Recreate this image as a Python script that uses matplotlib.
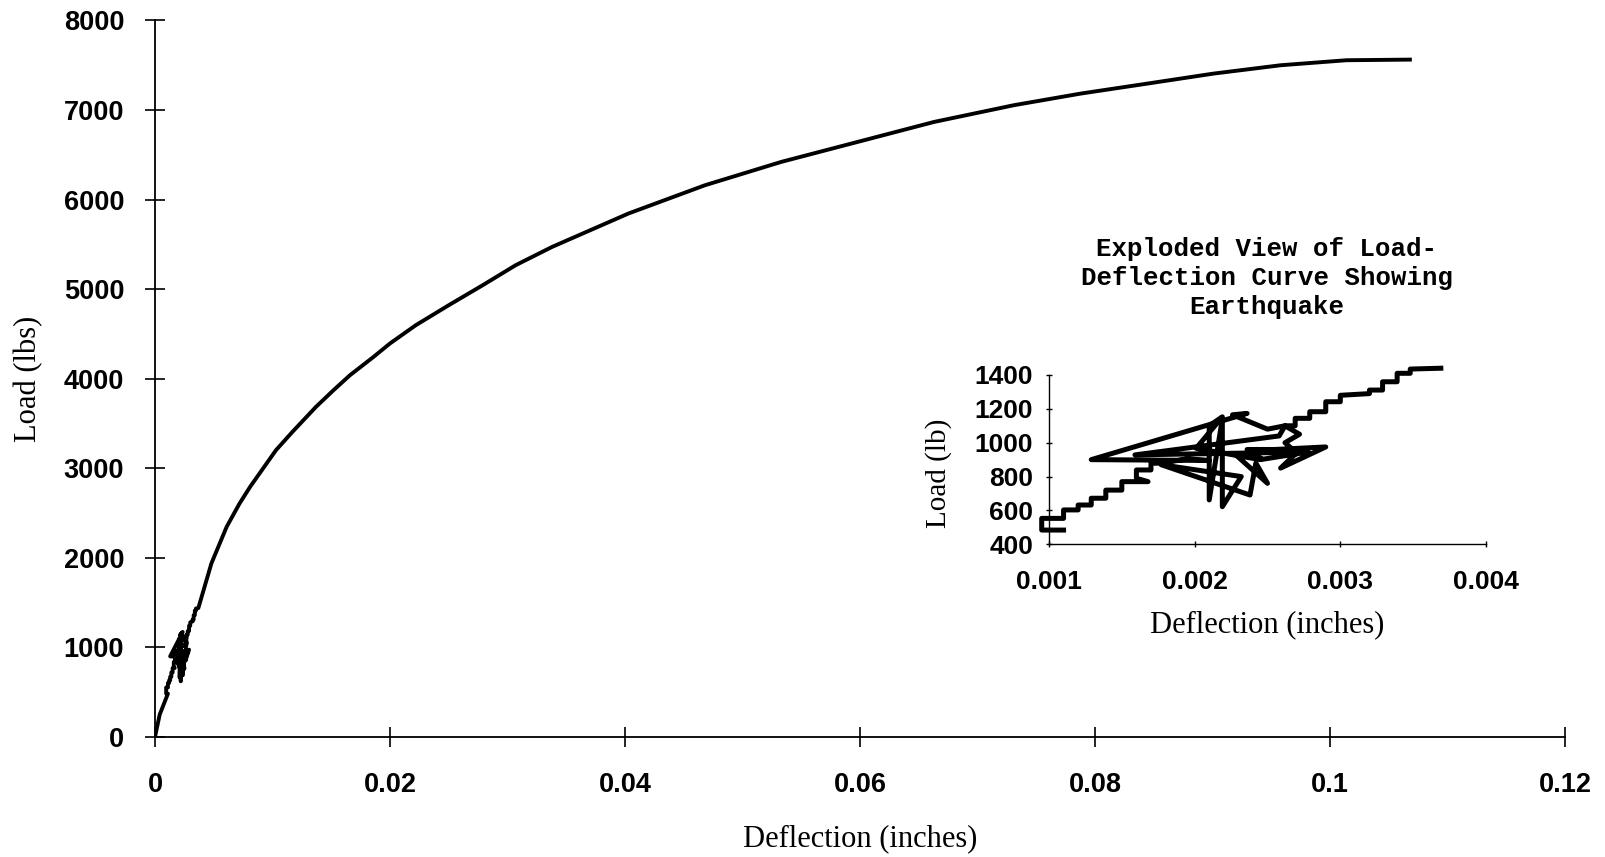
import matplotlib
matplotlib.use("Agg")
import matplotlib.pyplot as plt

# load-deflection record of the test (inches, lbs)
start_defl = [0.0, 0.0004]
start_load = [0, 250]

# lower staircase leading into the earthquake
stair_lo_defl = [0.00110, 0.00095, 0.00095, 0.00110, 0.00110, 0.00120, 0.00120, 0.00129, 0.00129,
                 0.00139, 0.00139, 0.00150, 0.00150, 0.00168, 0.00160, 0.00160, 0.00170, 0.00170, 0.00178]
stair_lo_load = [484, 484, 553, 553, 603, 603, 632, 632, 672,
                 672, 720, 720, 770, 770, 790, 839, 839, 878, 880]

# the earthquake itself
quake_defl = [0.00195, 0.00210, 0.00129, 0.00236, 0.00226, 0.00250, 0.00262, 0.00258, 0.00159,
              0.00278, 0.00245, 0.00201, 0.00219, 0.00210, 0.00210, 0.00219, 0.00219, 0.00232,
              0.00177, 0.00238, 0.00242, 0.00250, 0.00228, 0.00246, 0.00236, 0.00255, 0.00290,
              0.00259, 0.00270, 0.00262, 0.00272, 0.00262]
quake_load = [905, 895, 900, 1173, 1165, 1080, 1100, 1040, 928,
              945, 900, 967, 1153, 1100, 662, 1140, 622, 800,
              870, 691, 880, 760, 930, 905, 960, 960, 975,
              850, 940, 1000, 1050, 1100]

# upper staircase after the earthquake
stair_hi_defl = [0.00269, 0.00269, 0.00279, 0.00279, 0.00290, 0.00290, 0.00300, 0.00300, 0.00320,
                 0.00320, 0.00329, 0.00329, 0.00339, 0.00339, 0.00348, 0.00348, 0.00369]
stair_hi_load = [1100, 1144, 1144, 1183, 1183, 1242, 1242, 1280, 1290,
                 1311, 1311, 1360, 1360, 1410, 1410, 1435, 1440]

# rest of the curve up to the end of the test
curve_defl = [0.0048, 0.0061, 0.0072, 0.0081, 0.0089, 0.0103, 0.0117, 0.0137, 0.0152, 0.0166,
              0.0186, 0.0200, 0.0222, 0.0250, 0.0279, 0.0307, 0.0338, 0.0403, 0.0468, 0.0533,
              0.0598, 0.0663, 0.0731, 0.0788, 0.0845, 0.0901, 0.0958, 0.1014, 0.1068]
curve_load = [1938, 2347, 2608, 2794, 2943, 3203, 3407, 3686, 3873, 4040,
              4244, 4394, 4598, 4821, 5045, 5268, 5472, 5845, 6160, 6421,
              6644, 6867, 7054, 7184, 7296, 7407, 7500, 7556, 7563]

x_ticks = [0, 0.02, 0.04, 0.06, 0.08, 0.1, 0.12]
x_tick_labels = ['0', '0.02', '0.04', '0.06', '0.08', '0.1', '0.12']
y_ticks = [0, 1000, 2000, 3000, 4000, 5000, 6000, 7000, 8000]

ins_x_ticks = [0.001, 0.002, 0.003, 0.004]
ins_x_labels = ['0.001', '0.002', '0.003', '0.004']
ins_y_ticks = [400, 600, 800, 1000, 1200, 1400]

zoom_defl = stair_lo_defl + quake_defl + stair_hi_defl
zoom_load = stair_lo_load + quake_load + stair_hi_load
all_defl = start_defl + zoom_defl + curve_defl
all_load = start_load + zoom_load + curve_load

tick_font = dict(family='Liberation Sans', weight='bold')
label_font = dict(family='Liberation Serif')

fig = plt.figure(figsize=(16.05, 8.57), dpi=100)

ax = fig.add_axes([0.09657, 0.14002, 0.8785, 0.8361])
ax.plot(all_defl, all_load, color='black', lw=2.8)
ax.set_xlim(0, 0.12)
ax.set_ylim(0, 8000)
ax.set_xticks(x_ticks)
ax.set_xticklabels(x_tick_labels, fontsize=19.5, **tick_font)
ax.set_yticks(y_ticks)
ax.set_yticklabels([str(v) for v in y_ticks], fontsize=19.5, **tick_font)
ax.tick_params(axis='both', direction='inout', length=14.4, width=1.2, color='black')
ax.tick_params(axis='x', pad=18)
ax.tick_params(axis='y', pad=15)
for side in ['top', 'right']:
    ax.spines[side].set_visible(False)
for side in ['left', 'bottom']:
    ax.spines[side].set_linewidth(1.3)
ax.set_xlabel('Deflection (inches)', fontsize=22, va='top', **label_font)
ax.xaxis.set_label_coords(0.5, -0.122)
ax.set_ylabel('Load (lbs)', fontsize=22, **label_font)
ax.yaxis.set_label_coords(-0.079, 0.5)

# exploded view of the earthquake
ins = fig.add_axes([0.65358, 0.36489, 0.27227, 0.19755])
ins.plot(zoom_defl, zoom_load, color='black', lw=3.6, clip_on=False)
ins.set_xlim(0.001, 0.004)
ins.set_ylim(400, 1400)
ins.set_xticks(ins_x_ticks)
ins.set_xticklabels(ins_x_labels, fontsize=19, **tick_font)
ins.set_yticks(ins_y_ticks)
ins.set_yticklabels([str(v) for v in ins_y_ticks], fontsize=19, **tick_font)
ins.tick_params(axis='both', direction='inout', length=5, width=1, color='black')
ins.tick_params(axis='x', pad=16)
ins.tick_params(axis='y', pad=9)
ins.patch.set_alpha(0)
for side in ['top', 'right']:
    ins.spines[side].set_visible(False)
for side in ['left', 'bottom']:
    ins.spines[side].set_linewidth(1.0)
ins.set_xlabel('Deflection (inches)', fontsize=22, va='top', **label_font)
ins.xaxis.set_label_coords(0.5, -0.39)
ins.set_ylabel('Load (lb)', fontsize=21, **label_font)
ins.yaxis.set_label_coords(-0.222, 0.42)

fig.text(1267 / 1605, 1 - 278 / 857,
         'Exploded View of Load-\nDeflection Curve Showing\nEarthquake',
         family='Liberation Mono', weight='bold', fontsize=18.5, ha='center', va='center',
         multialignment='center', linespacing=1.28)

fig.savefig('out.png', dpi=100, facecolor='white')
